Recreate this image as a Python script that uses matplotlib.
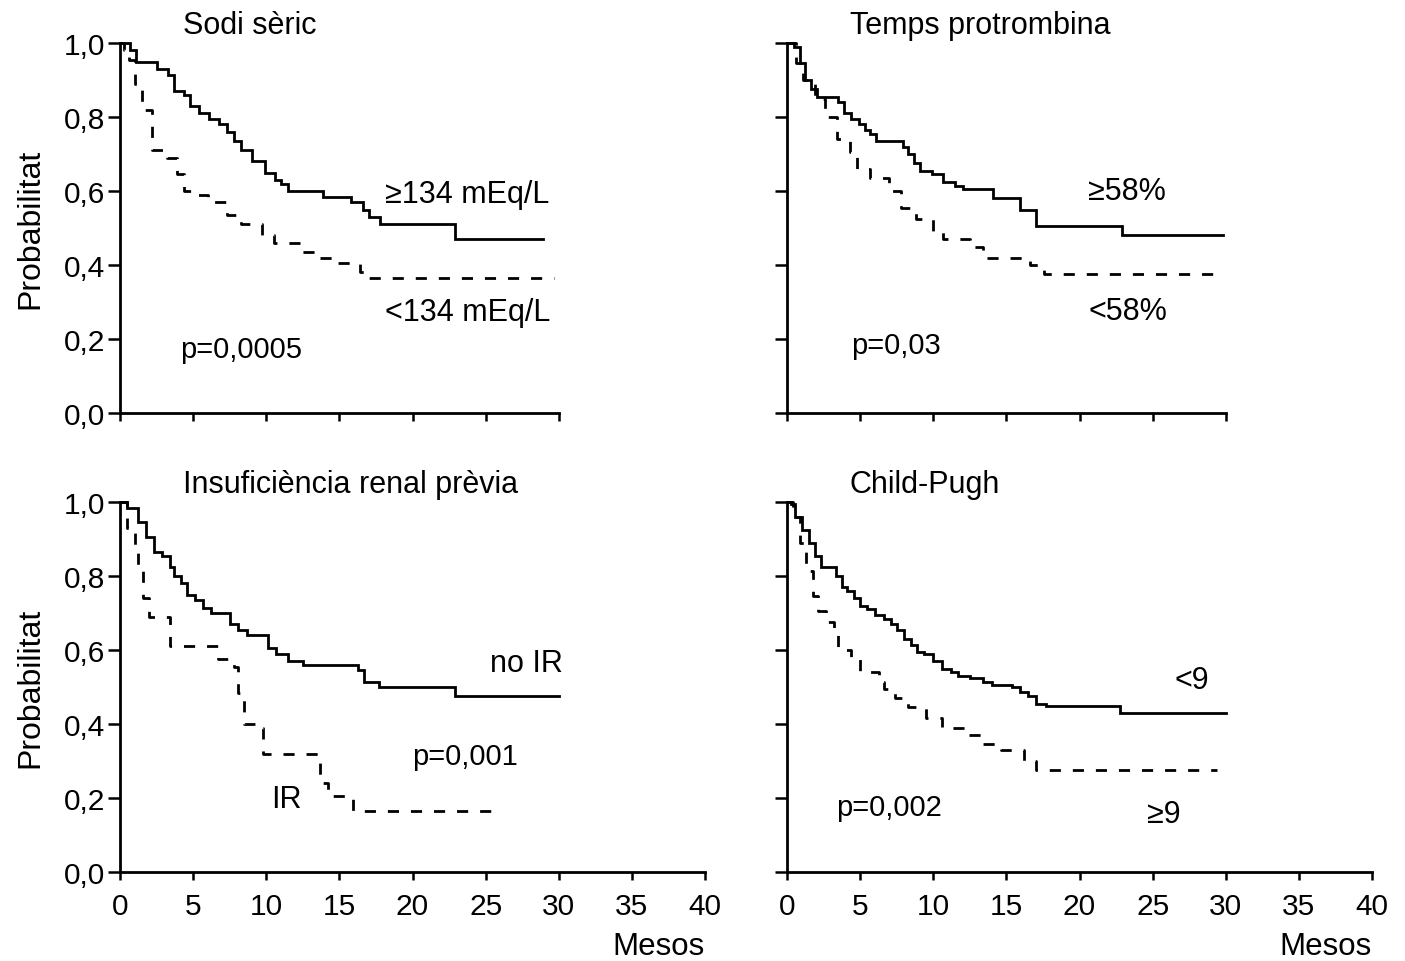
import numpy as np
import matplotlib
matplotlib.use("Agg")
import matplotlib.pyplot as plt

plt.rcParams['font.family'] = ['Liberation Sans', 'DejaVu Sans']

# Kaplan-Meier step data: (mesos, probabilitat)
sodi_hi_t = [0, 0.7, 1.1, 2.5, 3.3, 3.7, 4.4, 4.8, 5.4, 6.1, 6.8, 7.3, 7.8, 8.3, 9.0, 9.9,
             10.6, 11.0, 11.5, 13.9, 15.8, 16.6, 17.0, 17.8, 22.9, 28.9]
sodi_hi_s = [1.0, 0.98, 0.95, 0.93, 0.915, 0.87, 0.86, 0.83, 0.81, 0.795, 0.78, 0.76, 0.735,
             0.71, 0.68, 0.65, 0.63, 0.62, 0.60, 0.585, 0.57, 0.55, 0.53, 0.51, 0.47, 0.47]
sodi_lo_t = [0, 0.3, 0.6, 1.0, 1.5, 2.2, 3.2, 3.9, 4.4, 5.0, 6.0, 7.3, 8.3, 9.7, 10.5, 12.3,
             13.6, 14.9, 16.4, 16.8, 29.7]
sodi_lo_s = [1.0, 0.98, 0.955, 0.89, 0.82, 0.71, 0.69, 0.645, 0.60, 0.59, 0.57, 0.535, 0.51,
             0.48, 0.46, 0.435, 0.418, 0.405, 0.38, 0.365, 0.365]

tp_hi_t = [0, 0.47, 0.86, 1.26, 1.65, 2.04, 3.5, 3.9, 4.4, 4.9, 5.3, 5.7, 6.1, 7.9, 8.3, 8.7,
           9.1, 9.9, 10.7, 11.5, 12.0, 14.1, 15.9, 17.0, 22.9, 29.8]
tp_hi_s = [1.0, 0.99, 0.945, 0.90, 0.875, 0.855, 0.84, 0.81, 0.795, 0.78, 0.765, 0.755, 0.735,
           0.72, 0.70, 0.675, 0.655, 0.645, 0.625, 0.615, 0.605, 0.58, 0.55, 0.505, 0.48, 0.48]
tp_lo_t = [0, 0.6, 1.1, 1.9, 2.6, 3.4, 4.3, 4.8, 5.7, 7.0, 7.8, 8.8, 10.0, 10.7, 12.5, 13.4,
           16.6, 17.6, 29.8]
tp_lo_s = [1.0, 0.945, 0.90, 0.848, 0.80, 0.74, 0.705, 0.66, 0.635, 0.60, 0.555, 0.525, 0.49,
           0.47, 0.45, 0.42, 0.40, 0.375, 0.375]

noir_t = [0, 0.5, 1.2, 1.8, 2.3, 2.9, 3.4, 3.7, 4.2, 4.6, 5.1, 5.7, 6.2, 7.5, 8.1, 8.7, 10.1,
          10.7, 11.5, 12.5, 16.3, 16.7, 17.7, 22.9, 30.0]
noir_s = [1.0, 0.985, 0.945, 0.905, 0.865, 0.855, 0.825, 0.80, 0.78, 0.75, 0.735, 0.715, 0.70,
          0.67, 0.655, 0.64, 0.605, 0.59, 0.57, 0.56, 0.545, 0.515, 0.50, 0.475, 0.475]
ir_t = [0, 0.5, 1.0, 1.2, 1.6, 1.95, 3.4, 6.7, 7.8, 8.1, 8.5, 9.5, 9.8, 13.7, 14.2, 15.9, 25.8]
ir_s = [1.0, 0.93, 0.875, 0.815, 0.74, 0.69, 0.61, 0.575, 0.555, 0.485, 0.40, 0.39, 0.32,
        0.24, 0.205, 0.165, 0.165]

cp_lo_t = [0, 0.25, 0.55, 1.0, 1.5, 1.9, 2.3, 3.35, 3.75, 4.1, 4.6, 5.0, 5.5, 6.0, 6.6, 7.1,
           7.5, 8.0, 8.5, 8.9, 9.4, 10.0, 10.6, 11.2, 11.7, 12.5, 13.4, 14.0, 15.4, 15.9, 16.5,
           17.0, 17.7, 22.8, 30.0]
cp_lo_s = [1.0, 0.995, 0.96, 0.925, 0.89, 0.855, 0.825, 0.80, 0.77, 0.76, 0.74, 0.72, 0.71,
           0.695, 0.685, 0.67, 0.655, 0.63, 0.615, 0.595, 0.59, 0.57, 0.55, 0.54, 0.53, 0.525,
           0.515, 0.505, 0.50, 0.487, 0.475, 0.455, 0.45, 0.43, 0.43]
cp_hi_t = [0, 0.4, 0.87, 1.3, 1.8, 2.1, 2.7, 3.2, 3.5, 4.4, 5.0, 6.3, 6.6, 7.4, 8.3, 9.5, 10.6,
           12.3, 13.4, 14.6, 16.2, 17.0, 29.4]
cp_hi_s = [1.0, 0.96, 0.89, 0.815, 0.745, 0.705, 0.675, 0.645, 0.60, 0.575, 0.54, 0.515, 0.495,
           0.47, 0.445, 0.415, 0.39, 0.37, 0.345, 0.33, 0.30, 0.277, 0.277]

yticks = [0.0, 0.2, 0.4, 0.6, 0.8, 1.0]
ytick_labels = ['0,0', '0,2', '0,4', '0,6', '0,8', '1,0']
xticks = [0, 5, 10, 15, 20, 25, 30, 35, 40]

FS_TEXT = 22      # titles and group labels
FS_P = 21         # p-values
FS_TICK = 21.5
LW = 2.0
DASH = (0, (4.0, 4.3))

fig = plt.figure(figsize=(14.05, 9.62), dpi=100)
W, H = 1405.0, 962.0


def make_axes(x0_px, y0_px):
    # x0_px: pixel of month 0; y0_px: pixel row of probability 0
    left = x0_px / W
    bottom = (H - y0_px) / H
    return fig.add_axes([left, bottom, 585 / W, 381 / H])


def km_panel(ax, curves, title, labels, pval, top_row, left_col):
    for t, s, ls in curves:
        ax.step(t, s, where='post', color='black', lw=LW, linestyle=ls,
                solid_joinstyle='miter', clip_on=False)
    ax.set_xlim(0, 40)
    ax.set_ylim(0, 1.03)
    for side in ['top', 'right']:
        ax.spines[side].set_visible(False)
    ax.spines['left'].set_bounds(0, 1.0)
    ax.spines['left'].set_linewidth(2)
    ax.spines['bottom'].set_linewidth(2)
    ax.set_yticks(yticks)
    ax.tick_params(axis='both', direction='out', width=1.8,
                   labelsize=FS_TICK, colors='black')
    ax.tick_params(axis='y', length=8.5, pad=2)
    ax.tick_params(axis='x', length=5.5, pad=9)
    if top_row:
        ax.spines['bottom'].set_bounds(0, 30)
        ax.set_xticks(xticks[:7])
        ax.set_xticklabels([])
    else:
        ax.set_xticks(xticks)
        ax.set_xticklabels([str(v) for v in xticks])
        ax.text(40, -0.2, 'Mesos', fontsize=22.5, ha='right', va='center')
    if left_col:
        ax.set_yticklabels(ytick_labels)
        ax.text(-0.154, 0.5, 'Probabilitat', fontsize=23, rotation=90,
                ha='center', va='center', transform=ax.get_yaxis_transform())
    else:
        ax.set_yticklabels([])
    ax.text(4.3, 1.05, title, fontsize=FS_TEXT, ha='left', va='center')
    for x, y, s in labels:
        ax.text(x, y, s, fontsize=FS_TEXT, ha='left', va='center')
    px, py, ps = pval
    ax.text(px, py, ps, fontsize=FS_P, ha='left', va='center')


ax1 = make_axes(120, 414)
km_panel(ax1, [(sodi_hi_t, sodi_hi_s, '-'), (sodi_lo_t, sodi_lo_s, DASH)],
         'Sodi sèric',
         [(18.1, 0.592, '≥134 mEq/L'), (18.1, 0.273, '<134 mEq/L')],
         (4.1, 0.173, 'p=0,0005'), True, True)

ax2 = make_axes(787, 414)
km_panel(ax2, [(tp_hi_t, tp_hi_s, '-'), (tp_lo_t, tp_lo_s, DASH)],
         'Temps protrombina',
         [(20.6, 0.60, '≥58%'), (20.6, 0.276, '<58%')],
         (4.4, 0.184, 'p=0,03'), True, False)

ax3 = make_axes(120, 873)
km_panel(ax3, [(noir_t, noir_s, '-'), (ir_t, ir_s, DASH)],
         'Insuficiència renal prèvia',
         [(25.3, 0.566, 'no IR'), (10.3, 0.197, 'IR')],
         (20.0, 0.313, 'p=0,001'), False, True)

ax4 = make_axes(787, 873)
km_panel(ax4, [(cp_lo_t, cp_lo_s, '-'), (cp_hi_t, cp_hi_s, DASH)],
         'Child-Pugh',
         [(26.5, 0.52, '<9'), (24.6, 0.156, '≥9')],
         (3.35, 0.175, 'p=0,002'), False, False)

fig.savefig('out.png', dpi=100)
